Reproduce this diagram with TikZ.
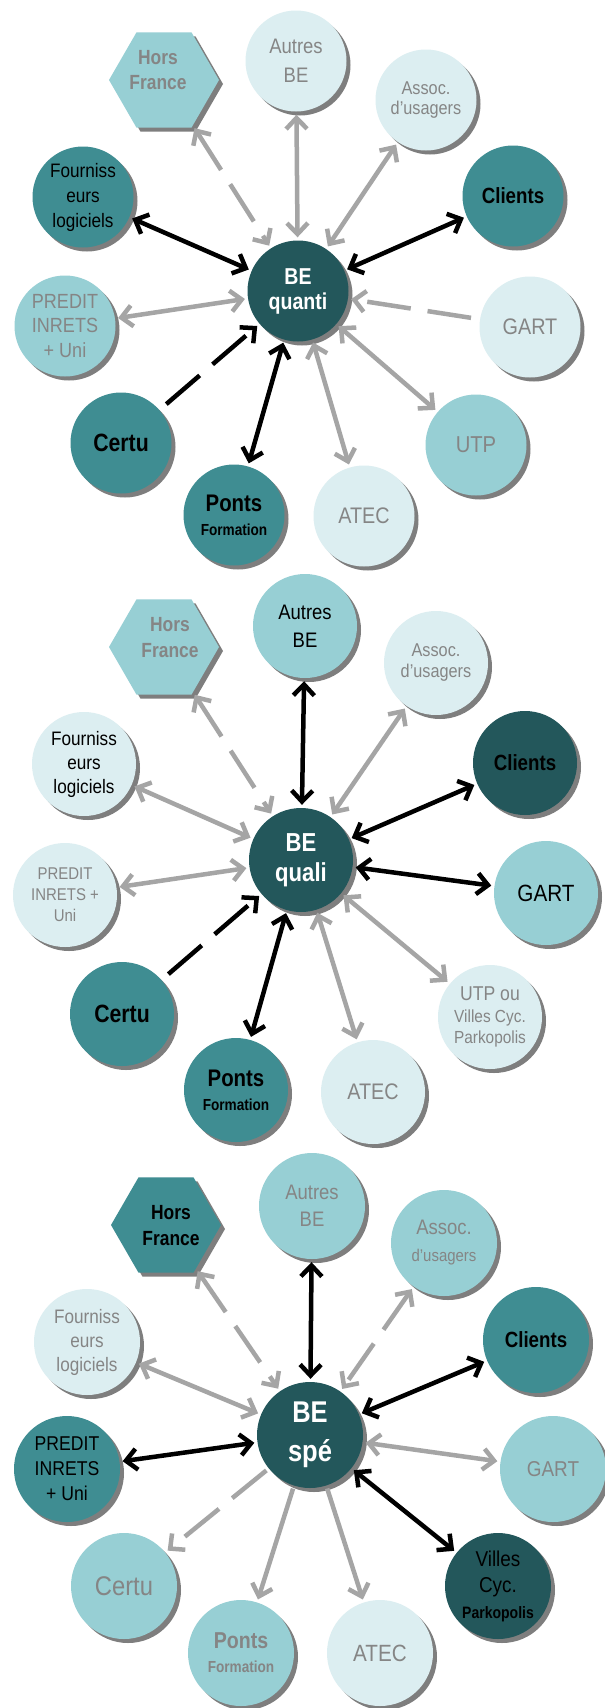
\documentclass[tikz,border=0pt]{standalone}
\usepackage{fontspec}
\setmainfont{Liberation Sans}[
  UprightFeatures={FakeStretch=0.88},
  BoldFont={Liberation Sans Bold},
  BoldFeatures={FakeStretch=0.85}]
\usetikzlibrary{arrows.meta,shapes.geometric}
\definecolor{cdark}{HTML}{23575B}
\definecolor{cmed}{HTML}{3F8D92}
\definecolor{clight}{HTML}{97CFD4}
\definecolor{cpale}{HTML}{DCEEF1}
\definecolor{cshadow}{HTML}{7E7E7E}
\definecolor{carrow}{HTML}{A5A5A5}
\definecolor{ctext}{HTML}{858585}
\newcommand\fz[2]{\fontsize{#1}{#2}\selectfont}
\begin{document}
\begin{tikzpicture}[x=1pt,y=-1pt,
  >={Straight Barb[length=11pt,width=21pt]},
  nd/.style={circle,inner sep=0pt,align=center},
  s1/.style={nd,minimum size=101pt},
  s2/.style={nd,minimum size=104pt},
  s3/.style={nd,minimum size=106pt},
  hx/.style={regular polygon,regular polygon sides=6,minimum size=110pt,inner sep=0pt},
  tx/.style={inner sep=0pt,align=center},
  dk/.style={fill=cdark}, md/.style={fill=cmed}, lt/.style={fill=clight}, pl/.style={fill=cpale},
  gt/.style={text=ctext}, bt/.style={text=black}, wt/.style={text=white},
  ln/.style={line width=4.5pt,shorten <=3pt,shorten >=3pt},
  bk/.style={ln,draw=black}, gy/.style={ln,draw=carrow},
  ds/.style={dash pattern=on 44pt off 17pt},
  gap/.style={shorten <=9pt},
  sh1/.style={fill=cshadow,circle,inner sep=0pt,minimum size=101pt},
  sh2/.style={fill=cshadow,circle,inner sep=0pt,minimum size=104pt},
  sh3/.style={fill=cshadow,circle,inner sep=0pt,minimum size=106pt},
  shx/.style={fill=cshadow,regular polygon,regular polygon sides=6,minimum size=110pt,inner sep=0pt},
]
\fill[white] (0,0) rectangle (605,1708);
\useasboundingbox (0,0) rectangle (605,1708);

% ---------------- shadows (drawn first) ----------------
\foreach \x/\y [count=\i] in {296/61,426/100,83/197,513/196,298/291,65/326,530/327,121/443,476/445,234/515,364/516}
  \node[sh1] (sa\i) at (\x+4,\y+4) {};
\foreach \x/\y [count=\i] in {305/626,436/663,84/764,525/763,301/860,65/895,546/893,122/1014,490/1017,236/1090,373/1092}
  \node[sh2] (sb\i) at (\x+4,\y+4) {};
\foreach \x/\y [count=\i] in {312/1206,444/1243,87/1342,536/1340,310/1435,67/1469,553/1469,124/1586,498/1586,241/1653,380/1653}
  \node[sh3] (sc\i) at (\x+4,\y+4) {};
\node[shx] (shx1) at (168,84) {};
\node[shx] (shx2) at (168,651) {};
\node[shx] (shx3) at (170,1229) {};

% ---------------- diagram 1 ----------------
\node[hx,lt] (hf1) at (164,80) {};
\node[tx,gt,font=\bfseries\fz{20.5}{25}] (hf1t) at (158,70) {Hors\\France};
\node[s1,pl,gt,font=\fz{21}{29}] (ab1) at (296,61) {Autres\\BE};
\node[s1,pl,gt,font=\fz{18.5}{20}] (as1) at (426,100) {Assoc.\\d'usagers};
\node[s1,md,bt,font=\fz{19.5}{25}] (fo1) at (83,197) {Fourniss\\eurs\\logiciels};
\node[s1,md,bt,font=\bfseries\fz{22}{26}] (cl1) at (513,196) {Clients};
\node[s1,dk,wt,font=\bfseries\fz{23}{25}] (be1) at (298,291) {BE\\quanti};
\node[s1,lt,gt,font=\fz{20.5}{24.5}] (pr1) at (65,326) {PREDIT\\INRETS\\+ Uni};
\node[s1,pl,gt,font=\fz{22.5}{24}] (ga1) at (530,327) {GART};
\node[s1,md,bt,font=\bfseries\fz{25}{26}] (ce1) at (121,443) {Certu};
\node[s1,lt,gt,font=\fz{23}{25}] (ut1) at (476,445) {UTP};
\node[s1,md,bt,font=\bfseries\fz{24}{24}] (po1) at (234,515) {Ponts\\{\fz{16}{16}Formation}};
\node[s1,pl,gt,font=\fz{22.5}{24}] (at1) at (364,516) {ATEC};

\draw[gy,ds,<->] (hf1) -- (be1);
\draw[gy,<->] (ab1) -- (be1);
\draw[gy,<->] (as1) -- (be1);
\draw[bk,<->] (fo1) -- (be1);
\draw[bk,<->] (cl1) -- (be1);
\draw[gy,<->] (pr1) -- (be1);
\draw[gy,ds,gap,->] (ga1) -- (be1);
\draw[bk,ds,gap,->] (ce1) -- (be1);
\draw[bk,<->] (po1) -- (be1);
\draw[gy,<->] (at1) -- (be1);
\draw[gy,<->] (ut1) -- (be1);

% ---------------- diagram 2 ----------------
\node[hx,lt] (hf2) at (164,647) {};
\node[tx,gt,font=\bfseries\fz{20.5}{26}] (hf2t) at (170,638) {Hors\\France};
\node[s2,lt,bt,font=\fz{21}{28}] (ab2) at (305,626) {Autres\\BE};
\node[s2,pl,gt,font=\fz{18.5}{21}] (as2) at (436,663) {Assoc.\\d'usagers};
\node[s2,pl,bt,font=\fz{19.5}{24}] (fo2) at (84,764) {Fourniss\\eurs\\logiciels};
\node[s2,dk,bt,font=\bfseries\fz{22}{26}] (cl2) at (525,763) {Clients};
\node[s2,dk,wt,font=\bfseries\fz{26}{30}] (be2) at (301,860) {BE\\quali};
\node[s2,pl,gt,font=\fz{17}{21}] (pr2) at (65,895) {PREDIT\\INRETS +\\Uni};
\node[s2,lt,bt,font=\fz{23.5}{26}] (ga2) at (546,893) {GART};
\node[s2,md,bt,font=\bfseries\fz{25}{26}] (ce2) at (122,1014) {Certu};
\node[s2,pl,gt,font=\fz{17.5}{21.5}] (ut2) at (490,1017) {{\fz{20}{21.5}UTP ou}\\Villes Cyc.\\Parkopolis};
\node[s2,md,bt,font=\bfseries\fz{24}{24}] (po2) at (236,1090) {Ponts\\{\fz{16}{16}Formation}};
\node[s2,pl,gt,font=\fz{22.5}{25}] (at2) at (373,1092) {ATEC};

\draw[gy,ds,<->] (hf2) -- (be2);
\draw[bk,<->] (ab2) -- (be2);
\draw[gy,<->] (as2) -- (be2);
\draw[gy,<->] (fo2) -- (be2);
\draw[bk,<->] (cl2) -- (be2);
\draw[gy,<->] (pr2) -- (be2);
\draw[bk,<->] (ga2) -- (be2);
\draw[bk,ds,gap,->] (ce2) -- (be2);
\draw[bk,<->] (po2) -- (be2);
\draw[gy,<->] (at2) -- (be2);
\draw[gy,<->] (ut2) -- (be2);

% ---------------- diagram 3 ----------------
\node[hx,md] (hf3) at (166,1225) {};
\node[tx,bt,font=\bfseries\fz{20.5}{26}] (hf3t) at (171,1226) {Hors\\France};
\node[s3,lt,gt,font=\fz{21}{27}] (ab3) at (312,1206) {Autres\\BE};
\node[s3,lt,gt,font=\fz{21}{27}] (as3) at (444,1243) {Assoc.\\{\fz{17}{20}d'usagers}};
\node[s3,pl,gt,font=\fz{19.5}{24}] (fo3) at (87,1342) {Fourniss\\eurs\\logiciels};
\node[s3,md,bt,font=\bfseries\fz{22}{26}] (cl3) at (536,1340) {Clients};
\node[s3,dk,wt,font=\bfseries\fz{30}{39}] (be3) at (310,1435) {BE\\spé};
\node[s3,md,bt,font=\fz{20}{25}] (pr3) at (67,1469) {PREDIT\\INRETS\\+ Uni};
\node[s3,lt,gt,font=\fz{21.5}{25}] (ga3) at (553,1469) {GART};
\node[s3,lt,gt,font=\fz{27}{30}] (ce3) at (124,1586) {Certu};
\node[s3,dk,bt,font=\fz{21.5}{26}] (vi3) at (498,1586) {Villes\\Cyc.\\{\bfseries\fz{16.5}{18}Parkopolis}};
\node[s3,lt,gt,font=\bfseries\fz{23}{24}] (po3) at (241,1653) {Ponts\\{\fz{16}{16}Formation}};
\node[s3,pl,gt,font=\fz{23.5}{25}] (at3) at (380,1653) {ATEC};

\draw[gy,ds,<->] (hf3) -- (be3);
\draw[bk,<->] (ab3) -- (be3);
\draw[gy,ds,<->] (as3) -- (be3);
\draw[gy,<->] (fo3) -- (be3);
\draw[bk,<->] (cl3) -- (be3);
\draw[bk,<->] (pr3) -- (be3);
\draw[gy,<->] (ga3) -- (be3);
\draw[gy,ds,->] (be3) -- (ce3);
\draw[gy,->] (be3) -- (po3);
\draw[gy,->] (be3) -- (at3);
\draw[bk,<->] (vi3) -- (be3);
\end{tikzpicture}
\end{document}
